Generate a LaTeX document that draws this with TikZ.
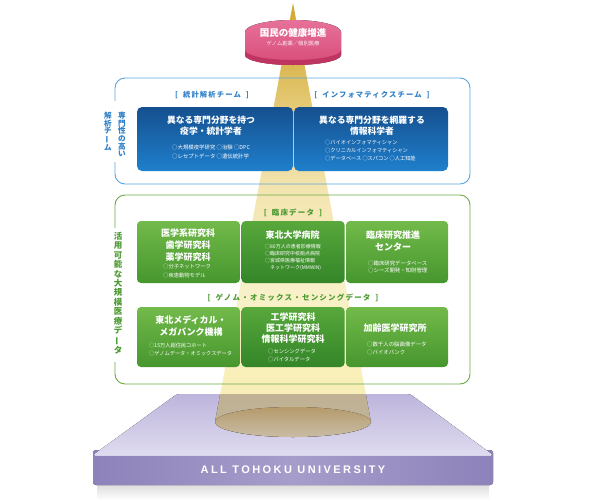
\documentclass[tikz,border=0pt]{standalone}
\usepackage{fontspec}
\usepackage{graphicx}
\setmainfont{Noto Sans CJK JP}
\newfontfamily\jpsp[LetterSpace=16]{Noto Sans CJK JP}
\newfontfamily\latf[LetterSpace=22]{Liberation Sans}
\newcommand{\fsz}[2]{\fontsize{#1}{#2}\selectfont}
\newcommand{\vbar}{\rotatebox[origin=c]{90}{ー}}
\definecolor{blueline}{HTML}{5AA5DC}
\definecolor{bluelbl}{HTML}{2E80C8}
\definecolor{bluetop}{HTML}{15508F}
\definecolor{bluebot}{HTML}{1F7FCC}
\definecolor{greenline}{HTML}{6AAA48}
\definecolor{greenlbl}{HTML}{4C9A32}
\definecolor{gtop}{HTML}{72BA4A}
\definecolor{gbot}{HTML}{46962E}
\definecolor{gdtop}{HTML}{58A83C}
\definecolor{gdbot}{HTML}{338528}
\definecolor{bm1}{HTML}{D2A830}
\definecolor{bm2}{HTML}{D9B64E}
\definecolor{bm3}{HTML}{E6CB7A}
\definecolor{bm4}{HTML}{F3E5B0}
\definecolor{bm5}{HTML}{F8F0C8}
\definecolor{bm6}{HTML}{F8EFB8}
\definecolor{tan1}{HTML}{C6B28C}
\definecolor{tan2}{HTML}{D4C5A6}
\definecolor{ell1}{HTML}{C8AA76}
\definecolor{ell2}{HTML}{DDD0B6}
\definecolor{cyt}{HTML}{E6719A}
\definecolor{cyb}{HTML}{D84C78}
\definecolor{cyband}{HTML}{BF3561}
\definecolor{ptt}{HTML}{BDB5DC}
\definecolor{ptb}{HTML}{DFDBEF}
\definecolor{pfm}{HTML}{A69DCB}
\definecolor{pfl}{HTML}{8D82BA}
\pgfdeclareverticalshading{beamsh}{100bp}{color(0bp)=(bm6); color(25bp)=(bm6); color(31.6bp)=(bm6); color(41.9bp)=(bm5); color(53.5bp)=(bm4); color(62.7bp)=(bm3); color(68.4bp)=(bm2); color(75bp)=(bm1); color(100bp)=(bm1)}
\tikzset{
  frameblue/.style={draw=blueline, line width=0.9pt, rounded corners=10pt},
  framegreen/.style={draw=greenline, line width=0.9pt, rounded corners=10pt},
  bbox/.style={rounded corners=5pt, top color=bluetop, bottom color=bluebot, minimum height=64pt, inner sep=0pt},
  gbox/.style={rounded corners=4pt, top color=gtop, bottom color=gbot, inner sep=0pt},
  gboxd/.style={rounded corners=4pt, top color=gdtop, bottom color=gdbot, inner sep=0pt},
  ttl/.style={text=white, align=center, inner sep=0pt},
  bul/.style={text=white, align=left, anchor=west, inner sep=0pt},
  blbl/.style={text=bluelbl, inner sep=0pt, font=\jpsp\bfseries\fsz{7.3}{8}},
  glbl/.style={text=greenlbl, inner sep=0pt, font=\jpsp\bfseries\fsz{7.5}{8}},
  vlbl/.style={align=center, inner sep=0pt, anchor=north}
}
\begin{document}
\begin{tikzpicture}[x=1pt,y=-1pt]
\useasboundingbox (0,0) rectangle (600,501);
% platform
\fill[top color=black!14, bottom color=white] (97,484) rectangle (489,500);
\fill[rounded corners=3pt, left color=pfl, right color=pfl, middle color=pfm] (93,450) rectangle (493,485);
\fill[rounded corners=2pt, top color=ptt, bottom color=ptb] (177,394) -- (410,394) -- (493,455) -- (93,455) -- cycle;
\draw[white!55!pfm, line width=0.6pt] (95,455.6) -- (491,455.6);
\node[text=white, font=\latf\bfseries\fsz{11}{11}, inner sep=0pt] (plat) at (293,470) {ALL TOHOKU UNIVERSITY};
% beam
\begin{scope}
  \clip (0,0) rectangle (600,394);
  \shade[shading=beamsh] (293,3) -- (215,422) arc[start angle=180, end angle=0, x radius=78, y radius=15] -- cycle;
\end{scope}
\begin{scope}
  \clip (0,394) rectangle (600,501);
  \fill[top color=tan1, bottom color=tan2, opacity=0.9] (293,3) -- (215,422) arc[start angle=180, end angle=0, x radius=78, y radius=15] -- cycle;
\end{scope}
\fill[top color=ell1, bottom color=ell2, opacity=0.9] (293,422) ellipse[x radius=78, y radius=15];
% cylinder
\fill[top color=cyt, bottom color=cyb] (245,32) arc[start angle=180, end angle=360, x radius=48, y radius=12] -- (341,55) arc[start angle=0, end angle=180, x radius=48, y radius=10] -- cycle;
\fill[cyband] (245,50) arc[start angle=180, end angle=0, x radius=48, y radius=10] -- (341,55) arc[start angle=0, end angle=180, x radius=48, y radius=10] -- cycle;
\node[ttl, font=\bfseries\fsz{9.5}{10}] (goal) at (293,33) {国民の健康増進};
\node[ttl, font=\fsz{5.3}{6}, text=white!90!cyt] (goalsub) at (293,43.5) {ゲノム創薬／個別医療};
% blue frame
\draw[frameblue] (115,78) rectangle (470,184);
\fill[white] (101,101) rectangle (129,162);
\node[vlbl, text=bluelbl, font=\bfseries\fsz{7.6}{7.6}] (vb1) at (122,112) {専\\門\\性\\の\\高\\い};
\node[vlbl, text=bluelbl, font=\bfseries\fsz{7.6}{7.6}] (vb2) at (108,112) {解\\析\\チ\\\vbar\\ム};
\node[blbl] (lb1) at (212,95) {[\hspace{5pt}統計解析チーム\hspace{5pt}]};
\node[blbl] (lb2) at (372,95) {[\hspace{5pt}インフォマティクスチーム\hspace{5pt}]};
\node[bbox, minimum width=156pt] (bl) at (215,139) {};
\node[bbox, minimum width=154pt] (br) at (371,139) {};
\node[ttl, font=\bfseries\fsz{8.8}{11}] (blt) at (211,125.5) {異なる専門分野を持つ\\疫学・統計学者};
\node[ttl, font=\bfseries\fsz{8.8}{11}] (brt) at (372,125.5) {異なる専門分野を網羅する\\情報科学者};
\node[bul, font=\fsz{5.4}{9}] (blb) at (172,151.5) {○大規模疫学研究 ○治験 ○DPC\\○レセプトデータ ○遺伝統計学};
\node[bul, font=\fsz{5.2}{8}] (brb) at (325,151) {○バイオインフォマティシャン\\○クリニカルインフォマティシャン\\○データベース ○スパコン ○人工知能};
% green frame
\draw[framegreen] (115,195) rectangle (470,384);
\fill[white] (110,228) rectangle (126,362);
\node[vlbl, text=greenlbl, font=\bfseries\fsz{8.5}{9.4}] (vg) at (118,232) {活\\用\\可\\能\\な\\大\\規\\模\\医\\療\\デ\\\vbar\\タ};
\node[glbl] (lg1) at (293,213) {[\hspace{5pt}臨床データ\hspace{5pt}]};
\node[glbl] (lg2) at (293,298) {[\hspace{5pt}ゲノム・オミックス・センシングデータ\hspace{5pt}]};
\node[gbox, minimum width=103pt, minimum height=62pt] (g1) at (188.5,252) {};
\node[gboxd, minimum width=103pt, minimum height=62pt] (g2) at (293,252) {};
\node[gbox, minimum width=102pt, minimum height=62pt] (g3) at (397,252) {};
\node[gbox, minimum width=103pt, minimum height=60pt] (g4) at (188.5,337) {};
\node[gboxd, minimum width=103pt, minimum height=60pt] (g5) at (293,337) {};
\node[gbox, minimum width=102pt, minimum height=60pt] (g6) at (397,337) {};
\node[ttl, font=\bfseries\fsz{9}{12}] (g1t) at (188,245) {医学系研究科\\歯学研究科\\薬学研究科};
\node[bul, font=\fsz{5.3}{9}] (g1b) at (163,271.5) {○分子ネットワーク\\○疾患動物モデル};
\node[ttl, font=\bfseries\fsz{9}{12}] (g2t) at (292.5,235) {東北大学病院};
\node[bul, font=\fsz{5}{7}] (g2b) at (265,257.5) {○80万人の患者診療情報\\○臨床研究中核拠点病院\\○宮城県医療福祉情報\\\phantom{○}ネットワーク(MMWIN)};
\node[ttl, font=\bfseries\fsz{9}{12}] (g3t) at (393,241) {臨床研究推進\\センター};
\node[bul, font=\fsz{5.4}{7}] (g3b) at (368,266.5) {○臨床研究データベース\\○シーズ開発・知財管理};
\node[ttl, font=\bfseries\fsz{9}{12}] (g4t) at (191,326) {東北メディカル・\\メガバンク機構};
\node[bul, font=\fsz{5.2}{8}] (g4b) at (149,349) {○15万人超住民コホート\\○ゲノムデータ・オミックスデータ};
\node[ttl, font=\bfseries\fsz{9}{11}] (g5t) at (293,328) {工学研究科\\医工学研究科\\情報科学研究科};
\node[bul, font=\fsz{5.3}{8}] (g5b) at (268,355) {○センシングデータ\\○バイタルデータ};
\node[ttl, font=\bfseries\fsz{9}{12}] (g6t) at (395,328) {加齢医学研究所};
\node[bul, font=\fsz{5.4}{7.5}] (g6b) at (367,348.5) {○数千人の脳画像データ\\○バイオバンク};
\end{tikzpicture}
\end{document}
